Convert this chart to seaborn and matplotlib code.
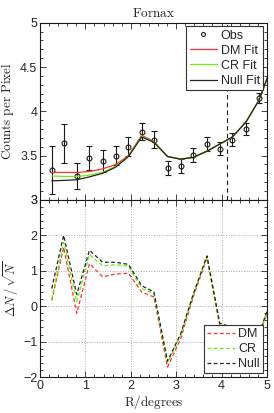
import numpy as np
import seaborn as sns
import matplotlib
matplotlib.use("Agg")
import matplotlib.pyplot as plt
from matplotlib.ticker import MultipleLocator

# radial bins (degrees)
r = [0.26, 0.52, 0.81, 1.09, 1.38, 1.67, 1.95, 2.24, 2.51, 2.81, 3.10, 3.38, 3.68, 3.96, 4.24, 4.54, 4.82, 5.10]

# observed counts per pixel and errors
obs = [3.34, 3.64, 3.27, 3.47, 3.44, 3.50, 3.60, 3.77, 3.68, 3.36, 3.38, 3.51, 3.63, 3.58, 3.68, 3.80, 4.15, 4.55]
obs_err = [0.27, 0.22, 0.145, 0.135, 0.12, 0.11, 0.105, 0.095, 0.095, 0.08, 0.08, 0.08, 0.08, 0.075, 0.07, 0.07, 0.06, 0.06]

# model fits
dm_fit = [3.31, 3.31, 3.31, 3.32, 3.35, 3.40, 3.50, 3.73, 3.66, 3.49, 3.46, 3.48, 3.55, 3.63, 3.71, 3.88, 4.12, 4.50]
cr_fit = [3.27, 3.265, 3.264, 3.28, 3.31, 3.38, 3.49, 3.72, 3.65, 3.49, 3.46, 3.48, 3.55, 3.63, 3.71, 3.88, 4.12, 4.50]
null_fit = [3.215, 3.22, 3.227, 3.26, 3.30, 3.37, 3.49, 3.71, 3.65, 3.49, 3.46, 3.48, 3.55, 3.63, 3.71, 3.88, 4.12, 4.50]

# residuals dN/sqrt(N)
dm_res = [0.16, 1.66, -0.20, 1.20, 0.83, 0.91, 0.93, 0.40, 0.26, -1.72, -0.92, 0.27, 1.36, -0.52, -0.65, -1.05, -0.85, 0.15]
cr_res = [0.20, 1.80, 0.12, 1.46, 1.14, 1.17, 1.13, 0.50, 0.36, -1.60, -0.82, 0.32, 1.40, -0.50, -0.62, -1.00, -0.82, 0.18]
null_res = [0.50, 2.00, 0.33, 1.58, 1.24, 1.24, 1.18, 0.58, 0.40, -1.55, -0.78, 0.35, 1.42, -0.48, -0.60, -0.98, -0.80, 0.20]

r_cut = 4.12

sns.set_theme(style="ticks")
plt.rcParams["font.family"] = ["Liberation Sans", "DejaVu Sans"]
plt.rcParams["mathtext.fontset"] = "cm"
plt.rcParams["xtick.direction"] = "in"
plt.rcParams["ytick.direction"] = "in"

red = "#ff3030"
green = "#66ee11"

fig = plt.figure(figsize=(2.74, 4.13), dpi=100)
ax1 = fig.add_axes([0.146, 0.516, 0.828, 0.429])
ax2 = fig.add_axes([0.146, 0.087, 0.828, 0.429])

# top panel: counts
ax1.errorbar(r, obs, yerr=obs_err, fmt="none", ecolor="k", elinewidth=0.8, capsize=2, capthick=0.8)
ax1.plot(r, obs, "o", mfc="none", mec="k", ms=3.5, mew=0.8, label="Obs")
sns.lineplot(x=r, y=dm_fit, ax=ax1, color=red, lw=0.9, label="DM Fit")
sns.lineplot(x=r, y=cr_fit, ax=ax1, color=green, lw=0.9, label="CR Fit")
sns.lineplot(x=r, y=null_fit, ax=ax1, color="#222222", lw=0.9, label="Null Fit")
ax1.axvline(r_cut, color="k", lw=0.8, ls=(0, (4, 3)))
ax1.set_xlim(0, 5)
ax1.set_ylim(3, 5)
ax1.set_xticks([0, 1, 2, 3, 4, 5])
ax1.set_xticklabels([])
ax1.set_yticks([3, 3.5, 4, 4.5, 5])
ax1.set_yticklabels(["3", "3.5", "4", "4.5", "5"])
ax1.xaxis.set_minor_locator(MultipleLocator(0.2))
ax1.yaxis.set_minor_locator(MultipleLocator(0.1))
ax1.tick_params(which="both", top=True, right=True, labelsize=9, width=0.6, pad=2)
ax1.tick_params(which="major", length=4)
ax1.tick_params(which="minor", length=2)
ax1.set_ylabel(r"$\mathrm{Counts\ per\ Pixel}$", fontsize=9.5)
ax1.yaxis.set_label_coords(-0.105, 0.5)
ax1.set_title(r"$\mathrm{Fornax}$", fontsize=9.5, pad=4)
leg1 = ax1.legend(loc="upper right", fontsize=9, fancybox=False, framealpha=1,
                  edgecolor="#333333", borderaxespad=0.3, borderpad=0.25,
                  labelspacing=0.25, handlelength=2.2, handletextpad=0.3, markerscale=0.8)
leg1.get_frame().set_linewidth(0.8)

# bottom panel: residuals
dash = (0, (3, 2))
sns.lineplot(x=r, y=dm_res, ax=ax2, color=red, lw=0.9, ls=dash, label="DM")
sns.lineplot(x=r, y=cr_res, ax=ax2, color=green, lw=0.9, ls=dash, label="CR")
sns.lineplot(x=r, y=null_res, ax=ax2, color="#222222", lw=0.9, ls=dash, label="Null")
ax2.set_xlim(0, 5)
ax2.set_ylim(-2, 3)
ax2.set_xticks([0, 1, 2, 3, 4, 5])
ax2.set_yticks([-2, -1, 0, 1, 2, 3])
ax2.set_yticklabels(["\u22122", "\u22121", "0", "1", "2", "3"])
ax2.xaxis.set_minor_locator(MultipleLocator(0.2))
ax2.yaxis.set_minor_locator(MultipleLocator(0.2))
ax2.grid(True, which="major", color="#aaaaaa", ls=":", lw=0.7)
ax2.tick_params(which="both", top=True, right=True, labelsize=9, width=0.6, pad=2)
ax2.tick_params(which="major", length=4)
ax2.tick_params(which="minor", length=2)
ax2.set_ylabel(r"$\Delta N\,/\,\sqrt{N}$", fontsize=9)
ax2.yaxis.set_label_coords(-0.085, 0.5)
ax2.set_xlabel(r"$\mathrm{R/degrees}$", fontsize=9.5, labelpad=1)
leg2 = ax2.legend(loc="lower right", fontsize=9, fancybox=False, framealpha=1,
                  edgecolor="#333333", borderaxespad=0.3, borderpad=0.25,
                  labelspacing=0.25, handlelength=2.2, handletextpad=0.3)
leg2.get_frame().set_linewidth(0.8)

for ax in (ax1, ax2):
    for s in ax.spines.values():
        s.set_linewidth(0.8)
        s.set_color("k")

fig.savefig("out.png", dpi=100)
